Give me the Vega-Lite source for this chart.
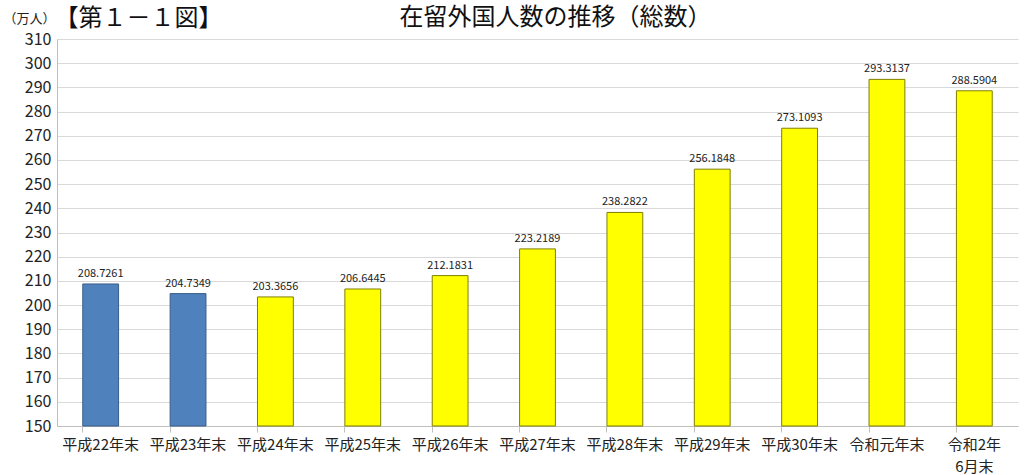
{
  "$schema": "https://vega.github.io/schema/vega-lite/v6.json",
  "width": 961,
  "height": 387,
  "autosize": {"type": "none"},
  "padding": {"left": 57, "top": 39, "right": 6, "bottom": 49},
  "background": "white",
  "config": {
    "font": "Noto Sans CJK JP",
    "view": {"stroke": null}
  },
  "title": {
    "text": "在留外国人数の推移（総数）",
    "anchor": "middle",
    "frame": "group",
    "dx": 18,
    "dy": 34,
    "offset": 10,
    "fontSize": 24,
    "fontWeight": "normal",
    "color": "#111111",
    "font": "Noto Sans CJK JP"
  },
  "data": {
    "values": [
      {"period": "平成22年末", "value": 208.7261, "group": "a"},
      {"period": "平成23年末", "value": 204.7349, "group": "a"},
      {"period": "平成24年末", "value": 203.3656, "group": "b"},
      {"period": "平成25年末", "value": 206.6445, "group": "b"},
      {"period": "平成26年末", "value": 212.1831, "group": "b"},
      {"period": "平成27年末", "value": 223.2189, "group": "b"},
      {"period": "平成28年末", "value": 238.2822, "group": "b"},
      {"period": "平成29年末", "value": 256.1848, "group": "b"},
      {"period": "平成30年末", "value": 273.1093, "group": "b"},
      {"period": "令和元年末", "value": 293.3137, "group": "b"},
      {"period": "令和2年6月末", "value": 288.5904, "group": "b"}
    ]
  },
  "encoding": {
    "x": {
      "field": "period",
      "type": "nominal",
      "sort": null,
      "scale": {"paddingInner": 0.59, "paddingOuter": 0.295},
      "axis": {
        "title": "【第１－１図】",
        "titleX": -3,
        "titleY": -408,
        "titleAlign": "left",
        "titleBaseline": "middle",
        "titleFontSize": 24,
        "titleFontWeight": "normal",
        "titleColor": "#111111",
        "labelAngle": 0,
        "labelFontSize": 15,
        "labelLineHeight": 22,
        "labelColor": "#222222",
        "labelPadding": 5,
        "labelExpr": "datum.value == '令和2年6月末' ? ['令和2年', '6月末'] : datum.value",
        "bandPosition": 0,
        "domainColor": "#bfbfbf",
        "tickColor": "#bfbfbf",
        "tickSize": 6,
        "grid": false
      }
    },
    "y": {
      "field": "value",
      "type": "quantitative",
      "scale": {"domain": [150, 310], "nice": false, "zero": false},
      "axis": {
        "values": [150, 160, 170, 180, 190, 200, 210, 220, 230, 240, 250, 260, 270, 280, 290, 300, 310],
        "title": "（万人）",
        "titleAngle": 0,
        "titleX": -54,
        "titleY": -21,
        "titleAlign": "left",
        "titleBaseline": "middle",
        "titleFontSize": 13,
        "titleFontWeight": "normal",
        "titleColor": "#222222",
        "labelFontSize": 16,
        "labelColor": "#222222",
        "labelPadding": 6,
        "tickSize": 0,
        "domainColor": "#bfbfbf",
        "gridColor": "#d9d9d9",
        "grid": true
      }
    }
  },
  "layer": [
    {
      "mark": {"type": "bar", "strokeWidth": 1},
      "encoding": {
        "y2": {"datum": 150},
        "color": {
          "field": "group",
          "type": "nominal",
          "scale": {"domain": ["a", "b"], "range": ["#4f81bd", "#ffff00"]},
          "legend": null
        },
        "stroke": {
          "field": "group",
          "type": "nominal",
          "scale": {"domain": ["a", "b"], "range": ["#385d8a", "#7f7f00"]},
          "legend": null
        }
      }
    },
    {
      "mark": {"type": "text", "baseline": "bottom", "dy": -5, "fontSize": 11, "color": "#222222"},
      "encoding": {
        "text": {"field": "value", "type": "quantitative", "format": ".4f"}
      }
    }
  ]
}
